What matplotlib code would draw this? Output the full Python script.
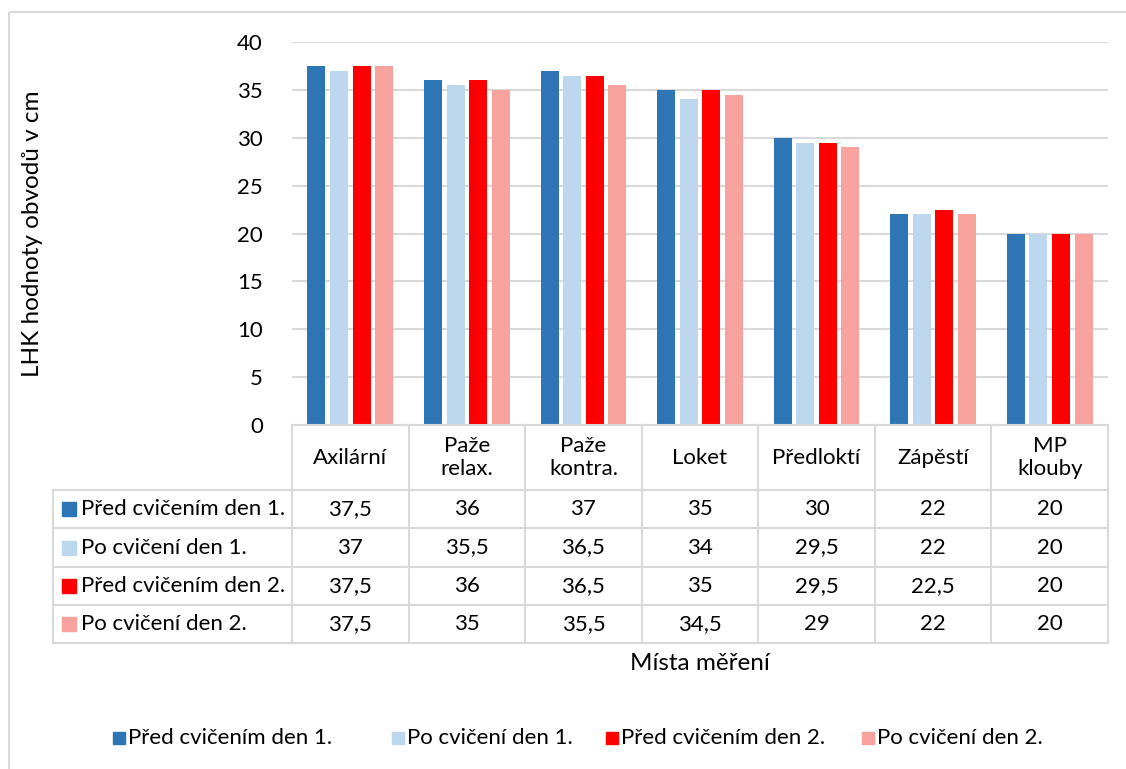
import matplotlib
matplotlib.use("Agg")
import matplotlib.pyplot as plt
from matplotlib.patches import Rectangle
from matplotlib.lines import Line2D
from matplotlib.transforms import blended_transform_factory, Affine2D

plt.rcParams['font.family'] = ['Lato', 'DejaVu Sans']

categories = ["Axilární", "Paže\nrelax.", "Paže\nkontra.", "Loket", "Předloktí", "Zápěstí", "MP\nklouby"]
series_names = ["Před cvičením den 1.", "Po cvičení den 1.", "Před cvičením den 2.", "Po cvičení den 2."]
pred_den1 = [37.5, 36, 37, 35, 30, 22, 20]
po_den1 = [37, 35.5, 36.5, 34, 29.5, 22, 20]
pred_den2 = [37.5, 36, 36.5, 35, 29.5, 22.5, 20]
po_den2 = [37.5, 35, 35.5, 34.5, 29, 22, 20]
colors = ["#2E75B6", "#BDD7EE", "#FF0000", "#F7A29C"]
yticks = [0, 5, 10, 15, 20, 25, 30, 35, 40]

series = [pred_den1, po_den1, pred_den2, po_den2]

FS = 16
W, H = 1126, 769
fig = plt.figure(figsize=(W / 100, H / 100), dpi=100)

# pixel -> figure-fraction transform (origin top-left)
pix = Affine2D().scale(1 / W, -1 / H).translate(0, 1) + fig.transFigure

# outer chart frame
fig.patches.append(Rectangle((9, 12), W + 20, H + 20, transform=pix,
                             fill=False, edgecolor="#d9d9d9", linewidth=1.5))

x0, x1, ytop, ybot = 292, 1108, 42, 425
ax = fig.add_axes([x0 / W, 1 - ybot / H, (x1 - x0) / W, (ybot - ytop) / H])
ax.set_xlim(-0.5, len(categories) - 0.5)
ax.set_ylim(0, 40)
for s in ax.spines.values():
    s.set_visible(False)
ax.set_yticks(yticks)
ax.set_yticklabels([str(t) for t in yticks], fontsize=FS)
ax.tick_params(axis='y', length=0, pad=21)
ax.set_xticks([])
ax.yaxis.grid(True, color="#d9d9d9", linewidth=1.5)
ax.set_axisbelow(True)

slot = 22.6 / 116.6
bw = 18 / 116.6
for k, vals in enumerate(series):
    xs = [i + (k - 1.5) * slot for i in range(len(categories))]
    ax.bar(xs, vals, width=bw, color=colors[k], linewidth=0, zorder=3)

# data table below the plot
tr = blended_transform_factory(ax.transData, pix)
grid_kw = dict(color="#d9d9d9", linewidth=1.5, clip_on=False)
row_edges = [425, 490, 528, 567, 605, 643]
# header row verticals
for j in range(len(categories) + 1):
    xb = j - 0.5
    fig.add_artist(Line2D([xb, xb], [row_edges[0], row_edges[-1]], transform=tr, **grid_kw))
fig.add_artist(Line2D([x0, x1], [row_edges[0]] * 2, transform=pix, **grid_kw))
for yb in row_edges[1:]:
    fig.add_artist(Line2D([53, x1], [yb, yb], transform=pix, **grid_kw))
fig.add_artist(Line2D([53, 53], [row_edges[1], row_edges[-1]], transform=pix, **grid_kw))

for i, c in enumerate(categories):
    fig.text(i, (row_edges[0] + row_edges[1]) / 2, c, transform=tr, ha="center", va="center",
             fontsize=FS, linespacing=1.15)

def fmt(v):
    return (f"{v:g}").replace(".", ",")

for k, vals in enumerate(series):
    yc = (row_edges[k + 1] + row_edges[k + 2]) / 2
    fig.patches.append(Rectangle((62, yc - 7), 14, 14, transform=pix, color=colors[k]))
    fig.text(81, yc, series_names[k], transform=pix, ha="left", va="center", fontsize=FS)
    for i, v in enumerate(vals):
        fig.text(i, yc, fmt(v), transform=tr, ha="center", va="center", fontsize=FS)

# axis titles
fig.text(33, (ytop + ybot) / 2, "LHK hodnoty obvodů v cm", transform=pix, rotation=90,
         ha="center", va="center", fontsize=17.5)
fig.text(700, 664, "Místa měření", transform=pix, ha="center", va="center", fontsize=17.5)

# legend
leg_x = [113, 392, 606, 862]
for k, name in enumerate(series_names):
    fig.patches.append(Rectangle((leg_x[k], 732), 12, 12, transform=pix, color=colors[k]))
    fig.text(leg_x[k] + 15, 738, name, transform=pix, ha="left", va="center", fontsize=FS)

fig.savefig("out.png", dpi=100)
